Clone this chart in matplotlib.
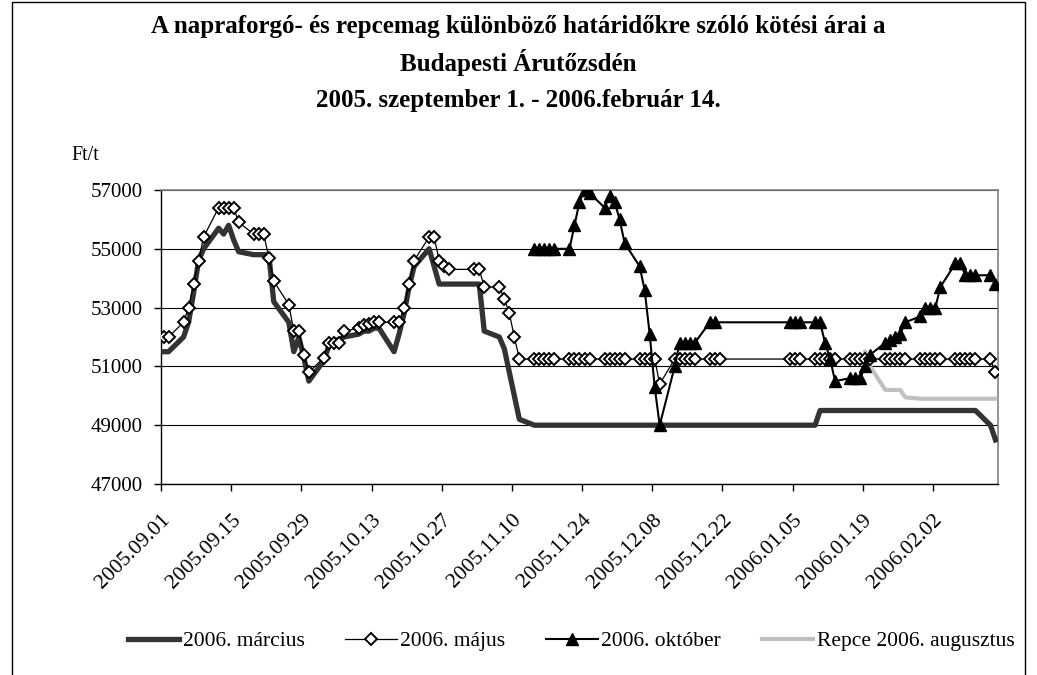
import matplotlib
matplotlib.use("Agg")
import matplotlib.pyplot as plt
import matplotlib.dates as mdates
from matplotlib.lines import Line2D
from matplotlib.patches import Rectangle
import numpy as np
import pandas as pd

plt.rcParams['font.family'] = ['Liberation Serif', 'DejaVu Serif']

# Kötési napok
dates = (
    ['2005-09-%02d' % d for d in [1, 2, 5, 6, 7, 8, 9, 12, 13, 14, 15, 16, 19, 20, 21, 22, 23, 26, 27, 28, 29, 30]]
    + ['2005-10-%02d' % d for d in [3, 4, 5, 6, 7, 10, 11, 12, 13, 14, 17, 18, 19, 20, 21, 24, 25, 26, 27, 28]]
    + ['2005-11-%02d' % d for d in [2, 3, 4, 7, 8, 9, 10, 11, 14, 15, 16, 17, 18, 21, 22, 23, 24, 25, 28, 29, 30]]
    + ['2005-12-%02d' % d for d in [1, 2, 5, 6, 7, 8, 9, 12, 13, 14, 15, 16, 19, 20, 21]]
    + ['2006-01-%02d' % d for d in [4, 5, 6, 9, 10, 11, 12, 13, 16, 17, 18, 19, 20, 23, 24, 25, 26, 27, 30, 31]]
    + ['2006-02-%02d' % d for d in [1, 2, 3, 6, 7, 8, 9, 10, 13, 14]]
)

N = None
marcius = (
    [51500, 51500, 52000, 52500, 53500, 54600, 55000, 55700, 55500, 55800, 55300, 54900, 54800, 54800, 54800, 54800, 53200, 52500, 51500, 52000, 51300, 50500]
    + [51200, 51700, 51900, 51900, 52000, 52100, 52200, 52200, 52300, 52300, 51500, 52100, 52800, 53700, 54400, 55000, 54400, 53800, 53800, 53800]
    + [53800, 53800, 52200, 52000, 51600, 50800, 50000, 49200] + [49000] * 13
    + [49000] * 15
    + [49000] * 4 + [49500] * 16
    + [49500] * 8 + [49000, 48500]
)
majus = (
    [52000, 52000, 52500, 53000, 53800, 54600, 55400, 56400, 56400, 56400, 56400, 55900, 55500, 55500, 55500, 54700, 53900, 53100, 52200, 52200, 51400, 50800]
    + [51300, 51800, 51800, 51800, 52200, 52300, 52400, 52450, 52500, 52500, 52500, 52500, 53000, 53800, 54600, 55400, 55400, 54600, 54400, 54300]
    + [54300, 54300, 53700, 53700, 53300, 52800, 52000, 51250] + [51250] * 13
    + [51250] * 6 + [50400] + [51250] * 8
    + [51250] * 20
    + [51250] * 9 + [50800]
)
oktober = (
    [N] * 22
    + [N] * 20
    + [N] * 8 + [55000] * 5 + [55000, 55800, 56600, 57000, 56900, 56400, 56800, 56600]
    + [56000, 55200, 54400, 53600, 52100, 50300, 49000, 51000, 51800, 51800, 51800, 51800, 52500, 52500, N]
    + [52500, 52500, 52500, 52500, 52500, 51800, 51250, 50500, 50600, 50600, 50600, 51000, 51400, 51800, 51900, 52000, 52100, 52500, 52700, 53000]
    + [53000, 53000, 53700, 54500, 54500, 54100, 54100, 54100, 54100, 53800]
)
repce = (
    [N] * 22 + [N] * 20 + [N] * 21 + [N] * 15
    + [N] * 11 + [51500, 51000, 50200, 50200, 50200, 50200, 49950, 49900, 49900]
    + [49900] * 10
)

series_names = ['2006. március', '2006. május', '2006. október', 'Repce 2006. augusztus']
yticks = [47000, 49000, 51000, 53000, 55000, 57000]

# Excel "tengely a jelölők között": fél nap eltolás
x = pd.to_datetime(dates) + pd.Timedelta(hours=12)


def sor(vals):
    v = np.array([np.nan if a is None else a for a in vals], dtype=float)
    m = ~np.isnan(v)
    return x[m], v[m]


fig = plt.figure(figsize=(10.37, 6.75), dpi=100)
ax = fig.add_axes([161 / 1037, 1 - 484 / 675, (998 - 161) / 1037, (484 - 190) / 675])

xs, ys = sor(marcius)
ax.plot(xs, ys, color='#333333', lw=3.8, solid_joinstyle='round', zorder=3)
xs, ys = sor(majus)
ax.plot(xs, ys, color='black', lw=0.9, marker='D', ms=6.5, mfc='white', mec='black', mew=1.4, zorder=4)
xs, ys = sor(oktober)
ax.plot(xs, ys, color='black', lw=1.5, marker='^', ms=8, mfc='black', mec='black', zorder=5)
xs, ys = sor(repce)
ax.plot(xs, ys, color='#c0c0c0', lw=3, zorder=3)

ax.set_xlim(pd.Timestamp('2005-09-01'), pd.Timestamp('2006-02-15'))
ax.set_ylim(47000, 57000)
ax.set_yticks(yticks)
ax.yaxis.grid(True, color='black', lw=0.8)
ax.set_axisbelow(True)

ticks = pd.date_range('2005-09-01', '2006-02-02', freq='14D')
ax.set_xticks(ticks)
ax.xaxis.set_major_formatter(mdates.DateFormatter('%Y.%m.%d'))
for lab in ax.get_xticklabels():
    lab.set_rotation(45)
    lab.set_ha('right')
    lab.set_va('top')
    lab.set_rotation_mode('anchor')

ax.tick_params(axis='x', direction='out', length=5, width=1, labelsize=15.5, pad=14)
ax.tick_params(axis='y', direction='out', length=5, width=1, labelsize=15, pad=8)
for s in ['left', 'bottom']:
    ax.spines[s].set_color('black')
    ax.spines[s].set_linewidth(1)
for s in ['top', 'right']:
    ax.spines[s].set_color('#808080')
    ax.spines[s].set_linewidth(1.2)

fig.text(0.5, 1 - 27 / 675, 'A napraforgó- és repcemag különböző határidőkre szóló kötési árai a',
         ha='center', va='center', fontsize=18, fontweight='bold')
fig.text(0.5, 1 - 63 / 675, 'Budapesti Árutőzsdén', ha='center', va='center', fontsize=18, fontweight='bold')
fig.text(0.5, 1 - 100 / 675, '2005. szeptember 1. - 2006.február 14.', ha='center', va='center',
         fontsize=18, fontweight='bold')
fig.text(71 / 1037, 1 - 155 / 675, 'Ft/t', ha='left', va='center', fontsize=14.5)

handles = [
    Line2D([], [], color='#333333', lw=3.8),
    Line2D([], [], color='black', lw=0.9, marker='D', ms=6.5, mfc='white', mec='black', mew=1.4),
    Line2D([], [], color='black', lw=1.5, marker='^', ms=8, mfc='black'),
    Line2D([], [], color='#c0c0c0', lw=3),
]
fig.legend(handles, series_names, loc='center', bbox_to_anchor=(571 / 1037, 1 - 641 / 675), ncol=4,
           frameon=False, fontsize=15.5, handlelength=2.4, handletextpad=0.15, columnspacing=1.9)

fig.add_artist(Rectangle((12 / 1037, -0.1), 1013 / 1037, 1.1 - 2 / 675, transform=fig.transFigure,
                         fill=False, ec='black', lw=1, clip_on=False))

fig.savefig('out.png', dpi=100, facecolor='white')
